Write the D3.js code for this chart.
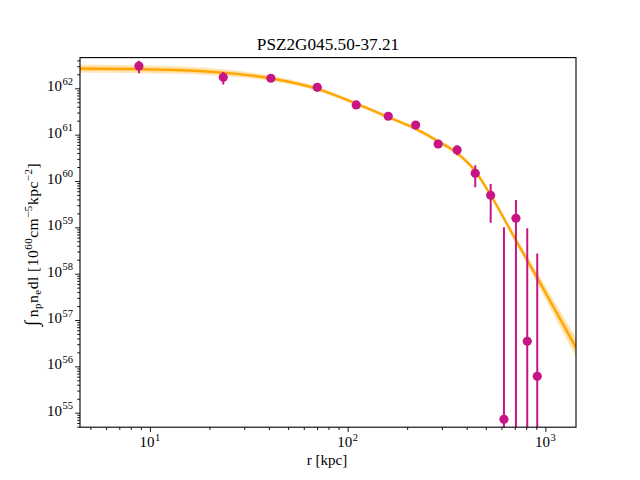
<!DOCTYPE html>
<html><head><meta charset="utf-8">
<script src="https://cdn.jsdelivr.net/npm/d3@7"></script>
<style>
html,body{margin:0;padding:0;background:#fff;}
text{font-family:"Liberation Serif","DejaVu Serif",serif;fill:#000;}
</style></head>
<body>
<svg id="chart" width="640" height="480"></svg>
<script>
// ---- data ----
const titleText = "PSZ2G045.50-37.21";
const pointR   = [8.8, 23.5, 40.9, 70.2, 110.5, 160.5, 220.8, 287, 358, 442, 529, 710, 617.5, 810, 910];
const pointVal = [3.02e62, 1.726e62, 1.644e62, 1.047e62, 4.37e61, 2.49e61, 1.61e61, 6.28e60, 4.67e60, 1.466e60, 4.91e59, 1.567e59, 7.2e54, 3.47e56, 6.1e55];
const pointErr = [0.9e62, 0.52e62, 0.05e62, 0.04e62, 0.15e61, 0.1e61, 0.08e61, 0.4e60, 1.1e60, 0.73e60, 3.65e59, 2.3e59, 1.0e59, 9.5e58, 2.7e58];
const modelR   = [4.43, 8.80, 13.85, 22.87, 40.9, 69.9, 110.2, 159.9, 221.6, 286.3, 357.2, 440.5, 524.6, 710, 907, 1092, 1428];
const modelVal = [2.66e62, 2.58e62, 2.47e62, 2.19e62, 1.64e62, 9.77e61, 4.68e61, 2.40e61, 1.318e61, 7.24e60, 3.98e60, 1.66e60, 5.25e59, 5.25e58, 8.32e57, 2.0e57, 2.57e56];
const modelBandDex = [0.09, 0.085, 0.08, 0.075, 0.06, 0.05, 0.045, 0.045, 0.045, 0.05, 0.05, 0.055, 0.06, 0.08, 0.12, 0.16, 0.22];
const xTicks = [10, 100, 1000];
const xTickExp = ["1", "2", "3"];
const yTickExp = [55, 56, 57, 58, 59, 60, 61, 62];

// ---- layout ----
const L = 80, R = 576, T = 57.6, B = 427.2;
const svg = d3.select("#chart");

const x = d3.scaleLog().domain([4.43, 1429]).range([L, R]);
const y = d3.scaleLog().domain([Math.pow(10, 54.687), Math.pow(10, 62.662)]).range([B, T]);

svg.append("defs").append("clipPath").attr("id", "clip")
  .append("rect").attr("x", L).attr("y", T).attr("width", R - L).attr("height", B - T);

const plot = svg.append("g").attr("clip-path", "url(#clip)");

// model band (outer + inner)
const modelData = modelR.map((r, i) => ({r, v: modelVal[i], w: modelBandDex[i]}));
const areaOuter = d3.area().x(d => x(d.r))
  .y0(d => y(d.v / Math.pow(10, d.w))).y1(d => y(d.v * Math.pow(10, d.w)))
  .curve(d3.curveMonotoneX);
const areaInner = d3.area().x(d => x(d.r))
  .y0(d => y(d.v / Math.pow(10, d.w * 0.5))).y1(d => y(d.v * Math.pow(10, d.w * 0.5)))
  .curve(d3.curveMonotoneX);
plot.append("path").datum(modelData).attr("d", areaOuter)
  .attr("fill", "#FFA500").attr("fill-opacity", 0.28);
plot.append("path").datum(modelData).attr("d", areaInner)
  .attr("fill", "#FFA500").attr("fill-opacity", 0.28);
const line = d3.line().x(d => x(d.r)).y(d => y(d.v)).curve(d3.curveMonotoneX);
plot.append("path").datum(modelData).attr("d", line)
  .attr("fill", "none").attr("stroke", "#FFA500").attr("stroke-width", 2.2);

// data points with error bars
const pts = pointR.map((r, i) => ({r, v: pointVal[i], e: pointErr[i]}));
const eb = plot.append("g");
pts.forEach(d => {
  const lo = d.v - d.e;
  const yLo = lo > 0 ? y(lo) : B + 10;
  eb.append("line")
    .attr("x1", x(d.r)).attr("x2", x(d.r))
    .attr("y1", y(d.v + d.e)).attr("y2", yLo)
    .attr("stroke", "#C71585").attr("stroke-width", 2);
});
plot.append("g").selectAll("circle").data(pts).join("circle")
  .attr("cx", d => x(d.r)).attr("cy", d => y(d.v)).attr("r", 4.6)
  .attr("fill", "#C71585");

// ---- axes ----
const xMinor = [];
[1, 10, 100, 1000].forEach(dec => { for (let m = 2; m <= 9; m++) { const v = dec * m; if (v > 4.43 && v < 1429) xMinor.push(v); } });
const yMinor = [];
for (let e = 54; e <= 62; e++) for (let m = 2; m <= 9; m++) { const v = m * Math.pow(10, e); if (v > y.domain()[0] && v < y.domain()[1]) yMinor.push(v); }
const yMajor = yTickExp.map(e => Math.pow(10, e));

const gx = svg.append("g").attr("transform", `translate(0,${B})`);
gx.call(d3.axisBottom(x).tickValues(xTicks).tickSize(4.9).tickFormat(""));
const gxm = svg.append("g").attr("transform", `translate(0,${B})`);
gxm.call(d3.axisBottom(x).tickValues(xMinor).tickSize(2.8).tickFormat(""));
const gy = svg.append("g").attr("transform", `translate(${L},0)`);
gy.call(d3.axisLeft(y).tickValues(yMajor).tickSize(4.9).tickFormat(""));
const gym = svg.append("g").attr("transform", `translate(${L},0)`);
gym.call(d3.axisLeft(y).tickValues(yMinor).tickSize(2.8).tickFormat(""));
svg.selectAll(".domain").remove();
svg.selectAll(".tick line").attr("stroke", "#000").attr("stroke-width", 0.9);

// x tick labels
xTicks.forEach((t, i) => {
  const tx = svg.append("text").attr("x", x(t)).attr("y", 447).attr("text-anchor", "middle").style("font-size", "15px");
  tx.append("tspan").text("10");
  tx.append("tspan").attr("dy", -6.5).attr("dx", 0.5).style("font-size", "10.5px").text(xTickExp[i]);
});
// y tick labels
yTickExp.forEach(e => {
  const ty = svg.append("text").attr("x", 73).attr("y", y(Math.pow(10, e)) + 3).attr("text-anchor", "end").style("font-size", "15px");
  ty.append("tspan").text("10");
  ty.append("tspan").attr("dy", -6.5).attr("dx", 0.5).style("font-size", "10.5px").text(String(e));
});

// frame
svg.append("rect").attr("x", L).attr("y", T).attr("width", R - L).attr("height", B - T)
  .attr("fill", "none").attr("stroke", "#000").attr("stroke-width", 1.1);

// title
svg.append("text").attr("x", (L + R) / 2).attr("y", 49.5).attr("text-anchor", "middle")
  .style("font-size", "17.2px").style("font-weight", "300").text(titleText);

// x label
svg.append("text").attr("x", (L + R) / 2 - 1).attr("y", 465).attr("text-anchor", "middle")
  .style("font-size", "15px").text("r [kpc]");

// y label
const yl = svg.append("text").attr("transform", `translate(38,${(T + B) / 2 + 2}) rotate(-90)`)
  .attr("text-anchor", "middle").style("font-size", "15.5px").style("letter-spacing", "0.5px");
yl.append("tspan").style("font-size", "19px").text("∫");
yl.append("tspan").attr("dx", 3).text("n");
yl.append("tspan").attr("dy", 3).style("font-size", "11px").text("p");
yl.append("tspan").attr("dy", -3).text("n");
yl.append("tspan").attr("dy", 3).style("font-size", "11px").text("e");
yl.append("tspan").attr("dy", -3).text("dl [10");
yl.append("tspan").attr("dy", -6.5).style("font-size", "11px").text("60");
yl.append("tspan").attr("dy", 6.5).text("cm");
yl.append("tspan").attr("dy", -6.5).style("font-size", "11px").text("−5");
yl.append("tspan").attr("dy", 6.5).text("kpc");
yl.append("tspan").attr("dy", -6.5).style("font-size", "11px").text("−2");
yl.append("tspan").attr("dy", 6.5).text("]");
</script>
</body></html>
